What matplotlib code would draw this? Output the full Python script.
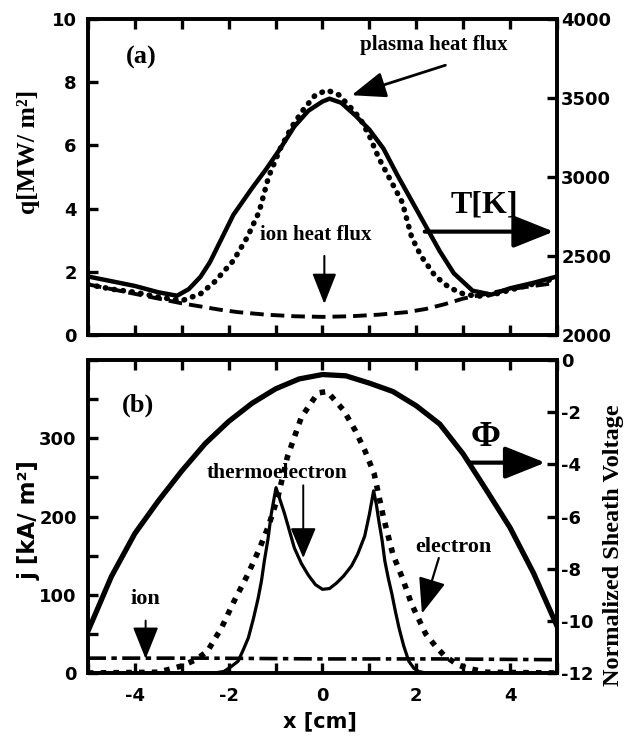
import numpy as np
import matplotlib
matplotlib.use("Agg")
import matplotlib.pyplot as plt
from matplotlib.ticker import MultipleLocator

# ---- panel (a) data ----
x_T = [-5, -4.5, -4, -3.5, -3.1, -2.85, -2.6, -2.4, -2.2, -1.9, -1.5, -1.2, -0.9, -0.6, -0.3,
       0.0, 0.15, 0.4, 0.7, 1.0, 1.3, 1.6, 1.9, 2.2, 2.5, 2.8, 3.2, 3.6, 4.0, 4.5, 5.0]
T_K = [2370, 2340, 2310, 2270, 2248, 2290, 2368, 2460, 2580, 2760, 2930, 3050, 3180, 3320, 3420,
       3478, 3496, 3470, 3390, 3300, 3180, 3010, 2850, 2690, 2530, 2390, 2280, 2255, 2295, 2330, 2370]

x_qp = [-5, -4.5, -4, -3.5, -3.0, -2.6, -2.3, -1.9, -1.6, -1.35, -1.15, -0.9, -0.65, -0.4,
        -0.15, 0.1, 0.35, 0.6, 0.8, 1.0, 1.2, 1.45, 1.7, 1.9, 2.1, 2.4, 2.7, 3.0, 3.3, 3.7,
        4.2, 4.6, 5.0]
q_plasma = [1.6, 1.45, 1.35, 1.2, 1.08, 1.3, 1.68, 2.35, 3.1, 3.9, 5.0, 5.9, 6.6, 7.15,
            7.6, 7.75, 7.6, 7.2, 6.86, 6.3, 5.6, 4.9, 4.2, 3.1, 2.5, 1.87, 1.5, 1.3, 1.22, 1.3,
            1.5, 1.65, 1.8]

x_qi = [-5, -4.5, -4, -3.5, -3, -2.6, -2.2, -1.8, -1.2, -0.6, 0, 0.6, 1.2, 1.8, 2.2, 2.6,
        3.0, 3.5, 4, 4.5, 5]
q_ion = [1.6, 1.45, 1.3, 1.15, 1.0, 0.9, 0.8, 0.72, 0.64, 0.59, 0.57, 0.59, 0.64, 0.72,
         0.82, 0.97, 1.15, 1.3, 1.45, 1.55, 1.65]

# ---- panel (b) data ----
x_phi = [-5, -4.5, -4.0, -3.5, -3.0, -2.5, -2.0, -1.5, -1.0, -0.5, 0.0, 0.5, 1.0, 1.5,
         2.0, 2.5, 3.0, 3.5, 4.0, 4.5, 5.0]
phi = [-10.4, -8.3, -6.65, -5.4, -4.25, -3.2, -2.35, -1.65, -1.1, -0.72, -0.55, -0.6, -0.88,
       -1.2, -1.75, -2.45, -3.6, -5.0, -6.43, -8.17, -10.2]

x_je = [-5, -3.5, -3.0, -2.7, -2.45, -2.15, -1.9, -1.6, -1.35, -1.15, -0.95, -0.75, -0.45,
        -0.1, 0.1, 0.45, 0.7, 0.9, 1.1, 1.3, 1.5, 1.7, 1.9, 2.2, 2.4, 2.6, 2.9, 3.1, 3.5, 5]
j_electron = [0, 1, 9, 17, 28, 58, 90, 125, 158, 188, 225, 276, 327,
              358, 360, 336, 310, 285, 255, 199, 152, 122, 88, 50, 35, 22, 10, 6, 1, 0]

x_jt = [-5, -2.3, -2.1, -1.95, -1.8, -1.7, -1.58, -1.47, -1.37, -1.3, -1.24, -1.16, -1.09,
        -0.99, -0.81, -0.6, -0.45, -0.3, -0.15, 0.0, 0.15, 0.3, 0.45, 0.62, 0.75, 0.9, 1.0,
        1.09, 1.15, 1.2, 1.27, 1.33, 1.4, 1.48, 1.55, 1.63, 1.73, 1.84, 1.95, 2.05, 2.2, 5]
j_thermo = [0, 0, 2, 8, 15, 28, 45, 70, 96, 118, 143, 172, 204,
            237, 204, 160, 140, 125, 113, 107, 108, 115, 124, 137, 152, 175, 203,
            233, 215, 195, 170, 143, 122, 101, 80, 58, 35, 15, 6, 2, 0, 0]

x_ji = [-5, -2.5, 0, 2.5, 5]
j_ion = [19, 19, 18, 18, 17]

serif = "Liberation Serif"
sans = "DejaVu Sans"
plt.rcParams["font.family"] = sans
plt.rcParams["font.weight"] = "bold"
plt.rcParams["axes.unicode_minus"] = False

fig = plt.figure(figsize=(6.28, 7.36), dpi=100)
ax1 = fig.add_axes([0.140, 0.545, 0.747, 0.429])
ax2 = fig.add_axes([0.140, 0.0856, 0.747, 0.425])
ax1r = ax1.twinx()
ax2r = ax2.twinx()


def style(ax):
    for s in ax.spines.values():
        s.set_linewidth(2.6)
    ax.tick_params(which="both", direction="in", length=7, width=2.4,
                   labelsize=13, pad=8)


for a in (ax1, ax2, ax1r, ax2r):
    style(a)

# panel (a)
ax1.plot(x_qp, q_plasma, color="k", lw=4, linestyle=(0, (0.1, 1.5)),
         dash_capstyle="round")
ax1.plot(x_qi, q_ion, color="k", lw=2.8, linestyle=(0, (3.5, 1.8)))
ax1r.plot(x_T, T_K, color="k", lw=3.2)
ax1.set_xlim(-5, 5)
ax1.set_ylim(0, 10)
ax1r.set_ylim(2000, 4000)
ax1.xaxis.set_major_locator(MultipleLocator(1))
ax1.yaxis.set_major_locator(MultipleLocator(2))
ax1r.yaxis.set_major_locator(MultipleLocator(500))
ax1.tick_params(axis="x", top=True, labelbottom=False)
ax1r.tick_params(axis="y", pad=3)

# panel (b)
ax2.plot(x_je, j_electron, color="k", lw=4, linestyle=(0, (1, 1.3)),
         dash_capstyle="butt")
ax2.plot(x_jt, j_thermo, color="k", lw=2.3)
ax2.plot(x_ji, j_ion, color="k", lw=2.6, linestyle=(0, (5, 1.5, 1.5, 1.5)))
ax2r.plot(x_phi, phi, color="k", lw=3.8)
ax2.set_xlim(-5, 5)
ax2.set_ylim(0, 400)
ax2r.set_ylim(-12, 0)
ax2.xaxis.set_major_locator(MultipleLocator(2))
ax2.xaxis.set_minor_locator(MultipleLocator(1))
ax2.yaxis.set_major_locator(MultipleLocator(100))
ax2.yaxis.set_minor_locator(MultipleLocator(50))
ax2.set_yticks([0, 100, 200, 300])
ax2r.yaxis.set_major_locator(MultipleLocator(2))
ax2.tick_params(axis="x", which="both", top=True, pad=10)
ax2r.tick_params(axis="y", pad=3)

# axis labels
fig.text(29 / 628, 1 - 152 / 736, "q[MW/ m²]", rotation=90, family=serif,
         fontsize=18.5, fontweight="bold", ha="center", va="center")
fig.text(29 / 628, 1 - 520 / 736, "j [kA/ m²]", rotation=90, family=sans,
         fontsize=16.5, fontweight="bold", ha="center", va="center")
fig.text(614 / 628, 1 - 545 / 736, "Normalized Sheath Voltage", rotation=90,
         family=serif, fontsize=17.5, fontweight="bold", ha="center", va="center")
fig.text(320 / 628, 1 - 721 / 736, "x [cm]", family=sans, fontsize=15,
         fontweight="bold", ha="center", va="center")


def arrow(ax, tail, tip, lw, hl, hw):
    ax.annotate("", xy=tip, xytext=tail,
                arrowprops=dict(arrowstyle=f"-|>,head_length={hl},head_width={hw}",
                                lw=lw, color="k", shrinkA=0, shrinkB=0,
                                mutation_scale=10))


tfont = dict(family=serif, fontweight="bold", ha="center", va="center")

ax1.text(-3.87, 8.79, "(a)", fontsize=19, **tfont)
ax1.text(2.38, 9.17, "plasma heat flux", fontsize=15, **tfont)
arrow(ax1, (2.62, 8.54), (0.62, 7.59), 2.0, 2.1, 0.8)
ax1.text(-0.15, 3.17, "ion heat flux", fontsize=15, **tfont)
arrow(ax1, (0.04, 2.5), (0.04, 0.98), 1.5, 1.9, 0.75)
ax1.text(3.45, 4.1, "T[K]", fontsize=23, **tfont)
arrow(ax1, (2.18, 3.27), (4.93, 3.27), 3.0, 2.5, 1.0)

ax2.text(-3.94, 342, "(b)", fontsize=19, **tfont)
ax2.text(-0.96, 256, "thermoelectron", fontsize=15.5, **tfont)
arrow(ax2, (-0.41, 240), (-0.41, 147), 1.4, 1.9, 0.8)
ax2.text(3.47, 301, "Φ", fontsize=26, **tfont)
arrow(ax2, (3.15, 269), (4.75, 269), 3.0, 2.5, 1.0)
ax2.text(2.78, 161, "electron", fontsize=16, **tfont)
arrow(ax2, (2.48, 147), (2.12, 76), 1.6, 2.2, 0.85)
ax2.text(-3.77, 95, "ion", fontsize=16, **tfont)
arrow(ax2, (-3.77, 67), (-3.77, 18), 1.4, 2.0, 0.8)

fig.savefig("out.png", dpi=100)
